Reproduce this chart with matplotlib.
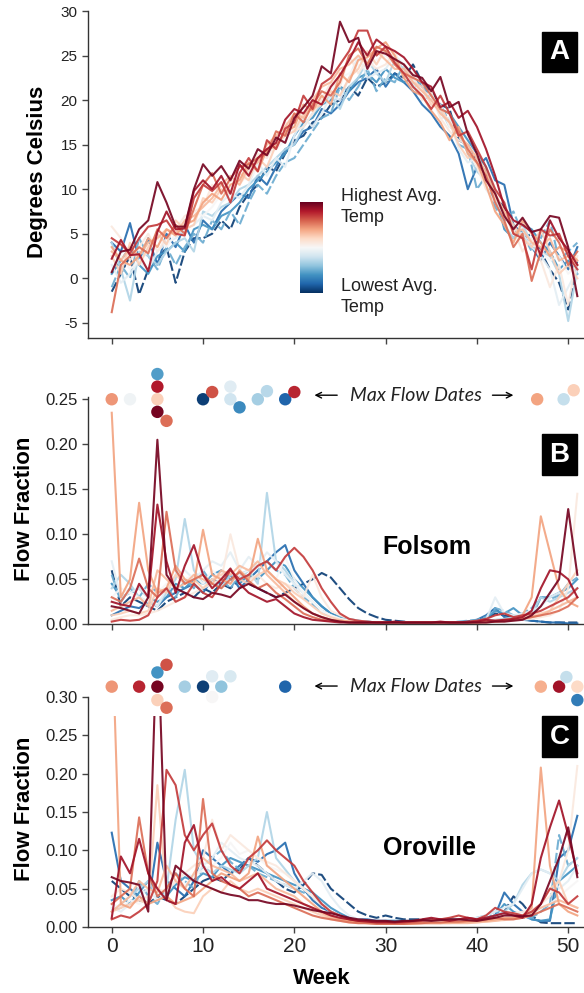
import numpy as np
import matplotlib.pyplot as plt
from matplotlib.patches import Rectangle

plt.rcParams['font.family'] = ['Liberation Sans', 'DejaVu Sans']

weeks = np.arange(52)

# colour rank of each year (0 = coolest year, 1 = warmest year), same years in all panels
year_rank = [0.98, 0.92, 0.85, 0.78, 0.70, 0.62, 0.55, 0.45, 0.35, 0.25, 0.12, 0.03, 0.66, 0.50, 0.20]

# weekly mean air temperature (deg C), one list per year
temp = [
    [0.7, 3.0, 3.2, 5.5, 6.5, 10.8, 8.5, 5.8, 5.8, 10.0, 12.8, 11.5, 12.6, 11.0, 13.2, 12.3, 14.5, 13.8, 15.8, 15.2, 18.0, 19.2, 20.5, 23.8, 23.0, 28.8, 26.5, 27.0, 23.5, 25.5, 25.2, 24.6, 24.0, 22.8, 22.5, 21.0, 22.6, 19.2, 19.8, 16.2, 14.0, 11.0, 9.5, 7.0, 5.5, 6.8, 5.2, 5.5, 7.0, 6.8, 3.5, -2.0],
    [2.2, 4.3, 2.6, 2.7, 0.8, 5.2, 7.5, 5.5, 5.6, 9.8, 11.0, 10.0, 11.5, 9.5, 12.8, 11.5, 13.5, 14.5, 15.2, 17.8, 19.0, 18.5, 20.0, 19.5, 21.5, 22.8, 24.5, 26.5, 25.0, 26.8, 26.0, 25.5, 24.8, 23.5, 22.0, 21.5, 19.2, 19.8, 18.0, 18.8, 17.0, 14.5, 11.5, 8.0, 6.5, 6.0, 5.2, 2.5, 6.5, 4.5, 3.2, 1.5],
    [4.5, 3.8, 2.8, 4.5, 5.8, 6.0, 6.5, 5.0, 4.8, 9.0, 10.5, 9.8, 10.8, 8.5, 11.8, 13.5, 12.0, 15.5, 14.5, 16.8, 17.5, 20.5, 19.0, 21.8, 22.5, 24.0, 25.5, 27.8, 27.8, 25.0, 26.0, 24.2, 23.0, 21.5, 20.5, 19.0, 20.5, 18.5, 16.0, 16.5, 14.5, 12.5, 10.0, 8.5, 5.0, 4.5, 1.0, 5.5, 4.8, 5.0, 2.5, 1.0],
    [-3.8, 1.5, 2.5, 3.5, 2.8, 5.5, 4.5, 6.0, 5.0, 7.8, 10.5, 11.8, 9.5, 11.2, 12.5, 12.8, 13.5, 14.0, 16.5, 16.0, 18.5, 17.5, 19.5, 21.0, 20.5, 22.0, 25.0, 25.8, 24.0, 26.0, 25.5, 24.0, 23.0, 22.5, 22.0, 20.5, 19.0, 18.5, 16.5, 14.5, 13.0, 11.5, 8.5, 6.5, 3.5, 5.0, -0.3, 3.0, 5.5, 4.0, 1.5, 3.0],
    [3.5, 2.0, 1.5, 2.5, 4.5, 3.5, 5.5, 4.8, 6.0, 6.5, 8.5, 9.5, 8.8, 10.5, 11.0, 13.0, 12.0, 14.5, 14.8, 16.5, 17.0, 19.5, 18.8, 20.5, 19.5, 23.0, 22.0, 24.5, 24.8, 25.8, 26.5, 25.0, 22.5, 21.0, 20.5, 18.8, 17.5, 15.5, 17.0, 14.0, 13.0, 10.5, 7.5, 6.0, 4.0, 6.5, 5.0, 4.0, 2.5, 3.5, 3.0, 2.0],
    [2.5, 0.5, 4.0, 1.5, 3.5, 5.0, 3.8, 6.5, 5.5, 6.0, 9.0, 8.5, 10.0, 9.5, 11.8, 11.0, 13.5, 12.5, 15.0, 16.0, 16.5, 18.5, 19.0, 19.5, 21.0, 20.5, 22.5, 23.5, 25.5, 24.0, 25.8, 24.5, 24.0, 22.0, 21.5, 19.5, 19.0, 17.5, 15.0, 13.5, 14.0, 11.5, 9.0, 7.5, 6.0, 4.5, 3.5, 5.5, 3.0, 0.5, 1.5, 0.0],
    [5.8, 4.5, 2.0, 3.5, 5.0, 3.0, 4.5, 5.5, 7.0, 7.5, 8.0, 10.5, 9.5, 11.0, 10.5, 12.0, 14.0, 13.5, 15.5, 17.5, 16.5, 17.0, 18.5, 20.0, 22.0, 21.5, 25.0, 23.0, 24.5, 23.5, 24.0, 25.5, 22.5, 23.0, 20.0, 21.0, 18.0, 16.5, 15.5, 15.0, 12.5, 10.0, 9.5, 7.0, 5.5, 3.0, 4.5, 2.0, -1.0, 1.5, -3.0, 2.5],
    [1.5, -0.5, 0.5, 2.0, 1.0, 3.0, 4.0, 4.5, 5.5, 6.0, 7.0, 6.5, 8.5, 9.5, 9.0, 10.5, 13.0, 11.5, 13.5, 12.5, 16.0, 18.0, 17.0, 18.5, 20.5, 20.0, 22.5, 25.0, 22.5, 23.0, 23.5, 25.0, 24.0, 22.5, 21.0, 20.5, 18.0, 18.0, 14.5, 13.0, 13.5, 10.0, 8.5, 7.0, 5.5, 5.0, 3.5, 2.5, 1.0, -3.0, -1.0, 1.0],
    [4.0, 1.0, -2.5, 3.0, 2.5, 1.5, 3.0, 4.0, 4.5, 3.0, 7.5, 7.0, 8.0, 8.5, 10.0, 10.5, 11.5, 12.5, 13.5, 14.5, 15.0, 17.0, 18.5, 19.5, 20.5, 19.0, 21.5, 22.5, 24.5, 23.0, 22.0, 24.5, 23.5, 21.5, 20.5, 20.0, 19.0, 17.0, 16.5, 14.0, 12.0, 11.0, 9.5, 6.0, 4.5, 6.0, 4.0, 3.0, 2.5, 0.5, -4.8, 1.0],
    [-1.0, 1.5, 0.0, 4.5, 2.5, 1.0, 3.5, 1.5, 3.5, 5.0, 4.0, 6.5, 5.5, 7.5, 6.0, 8.5, 10.5, 9.5, 11.5, 13.0, 13.5, 15.0, 16.5, 18.0, 18.5, 21.5, 20.0, 21.5, 23.5, 21.0, 22.5, 22.0, 24.0, 21.5, 22.0, 20.0, 19.5, 17.5, 15.0, 14.5, 10.0, 11.5, 8.0, 6.5, 7.5, 5.0, 3.0, 4.5, 6.5, 2.0, 3.0, 4.0],
    [4.0, 3.0, 6.2, 2.0, 4.5, 1.5, 5.0, 3.5, 6.0, 4.0, 6.5, 5.5, 7.5, 8.5, 9.5, 9.0, 11.5, 10.5, 12.5, 14.5, 15.0, 16.5, 17.0, 19.0, 18.5, 19.5, 21.0, 22.0, 22.5, 23.5, 21.5, 23.0, 22.0, 21.0, 19.5, 18.5, 17.0, 16.0, 14.0, 10.0, 12.5, 13.5, 11.0, 10.5, 6.0, 5.0, 3.5, 2.0, 4.0, 2.5, 1.0, 3.5],
    [-1.5, 0.5, 2.5, -1.8, 1.0, 2.0, 3.5, -0.5, 3.0, 4.5, 4.5, 5.0, 6.5, 5.5, 8.0, 9.5, 10.5, 12.5, 12.0, 14.0, 15.5, 16.0, 17.5, 18.0, 19.5, 20.0, 21.5, 20.5, 22.5, 21.5, 22.0, 23.0, 22.5, 24.0, 22.0, 21.0, 19.5, 19.0, 15.5, 15.0, 13.0, 12.0, 9.0, 8.0, 5.5, 4.5, 5.0, 3.0, 1.0, -0.5, -3.5, 2.0],
    [3.0, 2.0, 3.5, 2.5, 4.0, 4.5, 5.5, 5.0, 6.5, 7.0, 8.0, 9.0, 10.5, 11.5, 10.5, 12.5, 13.0, 15.0, 16.0, 17.0, 18.5, 18.0, 20.0, 21.5, 22.0, 23.5, 24.0, 25.0, 24.0, 25.5, 24.5, 23.5, 23.5, 22.0, 21.0, 20.0, 18.5, 17.5, 16.0, 15.0, 13.5, 12.0, 9.5, 7.5, 5.0, 5.5, 4.0, 3.5, 4.5, 2.0, 2.5, 1.5],
    [3.0, 2.5, 1.0, 2.0, 3.0, 4.5, 3.5, 5.0, 6.0, 7.5, 7.0, 8.0, 9.5, 10.0, 11.5, 11.0, 12.5, 14.0, 14.5, 15.5, 17.5, 18.5, 19.5, 20.5, 21.0, 22.5, 23.0, 24.0, 23.5, 24.5, 25.0, 24.0, 23.0, 22.0, 21.0, 20.0, 19.5, 17.0, 16.5, 14.5, 12.5, 11.0, 9.0, 7.5, 6.5, 5.5, 4.0, 3.0, 2.0, 2.5, 0.5, 1.5],
    [0.5, 2.0, 3.5, 1.5, 0.5, 2.5, 3.0, 4.0, 3.0, 5.5, 6.0, 5.5, 7.0, 7.5, 8.5, 10.0, 11.0, 12.0, 13.0, 14.0, 16.0, 17.5, 18.0, 19.5, 20.0, 21.5, 21.0, 22.5, 23.0, 22.0, 23.5, 22.5, 22.0, 22.5, 21.5, 20.5, 19.0, 18.5, 17.0, 15.5, 14.0, 12.5, 9.5, 5.5, 4.5, 6.0, 5.5, 4.0, 3.0, 1.0, 2.0, 0.5],
]

# weekly fraction of annual inflow, Folsom
folsom = [
    [0.020, 0.018, 0.015, 0.012, 0.030, 0.205, 0.055, 0.040, 0.035, 0.030, 0.028, 0.035, 0.033, 0.030, 0.040, 0.045, 0.040, 0.035, 0.030, 0.033, 0.025, 0.018, 0.012, 0.008, 0.005, 0.003, 0.002, 0.002, 0.002, 0.002, 0.002, 0.002, 0.002, 0.002, 0.002, 0.002, 0.002, 0.002, 0.002, 0.002, 0.002, 0.002, 0.003, 0.003, 0.004, 0.005, 0.010, 0.020, 0.035, 0.050, 0.128, 0.055],
    [0.025, 0.022, 0.020, 0.045, 0.030, 0.133, 0.070, 0.035, 0.065, 0.088, 0.055, 0.040, 0.050, 0.062, 0.045, 0.035, 0.030, 0.025, 0.028, 0.020, 0.012, 0.008, 0.005, 0.004, 0.003, 0.002, 0.002, 0.002, 0.002, 0.002, 0.002, 0.003, 0.002, 0.002, 0.002, 0.002, 0.003, 0.002, 0.002, 0.002, 0.003, 0.005, 0.004, 0.005, 0.006, 0.008, 0.015, 0.040, 0.060, 0.058, 0.050, 0.030],
    [0.003, 0.005, 0.004, 0.005, 0.010, 0.030, 0.040, 0.025, 0.030, 0.045, 0.035, 0.030, 0.045, 0.060, 0.050, 0.055, 0.065, 0.070, 0.060, 0.075, 0.085, 0.075, 0.060, 0.040, 0.025, 0.012, 0.006, 0.004, 0.003, 0.002, 0.002, 0.002, 0.002, 0.002, 0.002, 0.002, 0.002, 0.002, 0.002, 0.003, 0.004, 0.006, 0.010, 0.012, 0.008, 0.010, 0.012, 0.015, 0.020, 0.025, 0.030, 0.040],
    [0.030, 0.025, 0.040, 0.073, 0.040, 0.030, 0.125, 0.060, 0.045, 0.050, 0.055, 0.045, 0.040, 0.050, 0.058, 0.048, 0.040, 0.045, 0.035, 0.028, 0.020, 0.012, 0.008, 0.005, 0.004, 0.003, 0.002, 0.002, 0.002, 0.002, 0.002, 0.002, 0.002, 0.002, 0.002, 0.002, 0.002, 0.002, 0.002, 0.002, 0.002, 0.003, 0.003, 0.004, 0.005, 0.006, 0.008, 0.010, 0.012, 0.015, 0.020, 0.030],
    [0.235, 0.030, 0.050, 0.135, 0.060, 0.035, 0.040, 0.065, 0.050, 0.045, 0.105, 0.055, 0.050, 0.045, 0.060, 0.050, 0.095, 0.060, 0.050, 0.040, 0.030, 0.020, 0.012, 0.008, 0.005, 0.004, 0.003, 0.002, 0.002, 0.002, 0.002, 0.002, 0.002, 0.002, 0.002, 0.002, 0.002, 0.002, 0.002, 0.002, 0.002, 0.003, 0.004, 0.005, 0.006, 0.010, 0.030, 0.120, 0.080, 0.040, 0.025, 0.020],
    [0.010, 0.012, 0.015, 0.012, 0.015, 0.040, 0.035, 0.055, 0.045, 0.050, 0.040, 0.050, 0.055, 0.060, 0.050, 0.045, 0.055, 0.060, 0.050, 0.045, 0.035, 0.028, 0.020, 0.012, 0.008, 0.005, 0.003, 0.002, 0.002, 0.002, 0.002, 0.002, 0.002, 0.002, 0.002, 0.002, 0.002, 0.002, 0.002, 0.002, 0.002, 0.002, 0.003, 0.003, 0.005, 0.008, 0.010, 0.012, 0.015, 0.030, 0.045, 0.060],
    [0.005, 0.008, 0.010, 0.010, 0.012, 0.015, 0.020, 0.025, 0.030, 0.035, 0.040, 0.045, 0.050, 0.100, 0.060, 0.050, 0.055, 0.045, 0.040, 0.045, 0.040, 0.030, 0.055, 0.030, 0.015, 0.010, 0.006, 0.004, 0.003, 0.002, 0.002, 0.002, 0.002, 0.002, 0.002, 0.002, 0.002, 0.002, 0.002, 0.002, 0.002, 0.002, 0.003, 0.003, 0.004, 0.005, 0.006, 0.008, 0.010, 0.015, 0.040, 0.145],
    [0.070, 0.030, 0.035, 0.040, 0.030, 0.020, 0.040, 0.055, 0.060, 0.050, 0.060, 0.070, 0.065, 0.080, 0.060, 0.075, 0.065, 0.080, 0.070, 0.055, 0.045, 0.035, 0.025, 0.015, 0.010, 0.006, 0.004, 0.003, 0.002, 0.002, 0.002, 0.002, 0.002, 0.002, 0.002, 0.002, 0.002, 0.002, 0.002, 0.002, 0.003, 0.005, 0.030, 0.012, 0.010, 0.012, 0.015, 0.020, 0.030, 0.035, 0.030, 0.040],
    [0.040, 0.055, 0.045, 0.030, 0.025, 0.020, 0.035, 0.050, 0.117, 0.060, 0.045, 0.050, 0.040, 0.055, 0.050, 0.060, 0.045, 0.146, 0.070, 0.060, 0.045, 0.035, 0.025, 0.015, 0.010, 0.006, 0.004, 0.003, 0.002, 0.002, 0.002, 0.002, 0.002, 0.002, 0.002, 0.002, 0.002, 0.002, 0.002, 0.002, 0.003, 0.004, 0.005, 0.006, 0.008, 0.010, 0.012, 0.030, 0.025, 0.030, 0.035, 0.040],
    [0.055, 0.025, 0.040, 0.030, 0.045, 0.035, 0.040, 0.030, 0.050, 0.040, 0.060, 0.045, 0.050, 0.040, 0.055, 0.060, 0.065, 0.070, 0.060, 0.055, 0.040, 0.030, 0.022, 0.015, 0.010, 0.008, 0.006, 0.004, 0.003, 0.002, 0.002, 0.002, 0.002, 0.002, 0.002, 0.002, 0.002, 0.002, 0.003, 0.004, 0.005, 0.008, 0.018, 0.015, 0.010, 0.012, 0.018, 0.030, 0.028, 0.032, 0.045, 0.052],
    [0.010, 0.015, 0.020, 0.018, 0.025, 0.020, 0.030, 0.035, 0.040, 0.045, 0.035, 0.050, 0.045, 0.055, 0.040, 0.050, 0.060, 0.070, 0.080, 0.088, 0.060, 0.045, 0.030, 0.020, 0.012, 0.008, 0.005, 0.004, 0.003, 0.002, 0.002, 0.002, 0.002, 0.002, 0.002, 0.002, 0.002, 0.002, 0.002, 0.003, 0.005, 0.010, 0.018, 0.008, 0.006, 0.005, 0.004, 0.003, 0.002, 0.002, 0.001, 0.001],
    [0.060, 0.020, 0.030, 0.025, 0.020, 0.015, 0.025, 0.030, 0.035, 0.030, 0.040, 0.035, 0.045, 0.040, 0.050, 0.045, 0.040, 0.035, 0.030, 0.035, 0.040, 0.045, 0.050, 0.057, 0.052, 0.040, 0.028, 0.018, 0.012, 0.008, 0.005, 0.004, 0.003, 0.002, 0.002, 0.002, 0.002, 0.002, 0.002, 0.003, 0.004, 0.006, 0.012, 0.010, 0.008, 0.006, 0.004, 0.003, 0.002, 0.002, 0.002, 0.002],
    [0.015, 0.020, 0.025, 0.030, 0.020, 0.060, 0.050, 0.040, 0.045, 0.055, 0.050, 0.045, 0.060, 0.055, 0.065, 0.060, 0.070, 0.055, 0.045, 0.035, 0.025, 0.018, 0.012, 0.008, 0.005, 0.004, 0.003, 0.002, 0.002, 0.002, 0.002, 0.002, 0.002, 0.002, 0.002, 0.002, 0.002, 0.002, 0.002, 0.002, 0.002, 0.002, 0.003, 0.004, 0.005, 0.006, 0.008, 0.010, 0.015, 0.020, 0.025, 0.030],
    [0.030, 0.040, 0.035, 0.030, 0.025, 0.035, 0.045, 0.040, 0.050, 0.055, 0.045, 0.060, 0.050, 0.045, 0.055, 0.060, 0.065, 0.060, 0.050, 0.075, 0.050, 0.035, 0.025, 0.015, 0.010, 0.006, 0.004, 0.003, 0.002, 0.002, 0.002, 0.002, 0.002, 0.002, 0.002, 0.002, 0.002, 0.002, 0.002, 0.002, 0.002, 0.003, 0.004, 0.005, 0.006, 0.008, 0.010, 0.012, 0.015, 0.020, 0.025, 0.030],
    [0.045, 0.030, 0.035, 0.040, 0.030, 0.025, 0.030, 0.045, 0.040, 0.050, 0.045, 0.055, 0.060, 0.050, 0.045, 0.055, 0.050, 0.060, 0.070, 0.065, 0.050, 0.040, 0.030, 0.020, 0.012, 0.008, 0.005, 0.003, 0.002, 0.002, 0.002, 0.002, 0.002, 0.002, 0.002, 0.002, 0.002, 0.002, 0.002, 0.002, 0.003, 0.006, 0.015, 0.012, 0.018, 0.010, 0.008, 0.030, 0.030, 0.035, 0.040, 0.050],
]

# weekly fraction of annual inflow, Oroville
oroville = [
    [0.065, 0.060, 0.058, 0.055, 0.020, 0.400, 0.035, 0.080, 0.070, 0.060, 0.055, 0.050, 0.045, 0.042, 0.040, 0.035, 0.035, 0.032, 0.030, 0.030, 0.028, 0.025, 0.022, 0.020, 0.018, 0.015, 0.012, 0.010, 0.009, 0.008, 0.008, 0.007, 0.008, 0.008, 0.009, 0.008, 0.009, 0.010, 0.010, 0.009, 0.008, 0.010, 0.012, 0.015, 0.015, 0.014, 0.015, 0.030, 0.060, 0.090, 0.130, 0.065],
    [0.012, 0.092, 0.070, 0.115, 0.070, 0.050, 0.035, 0.030, 0.110, 0.133, 0.080, 0.060, 0.065, 0.055, 0.050, 0.060, 0.070, 0.050, 0.045, 0.040, 0.035, 0.030, 0.025, 0.020, 0.015, 0.012, 0.010, 0.008, 0.007, 0.006, 0.006, 0.006, 0.007, 0.008, 0.010, 0.012, 0.010, 0.008, 0.010, 0.012, 0.010, 0.012, 0.015, 0.018, 0.015, 0.012, 0.030, 0.090, 0.130, 0.165, 0.120, 0.070],
    [0.010, 0.015, 0.012, 0.020, 0.030, 0.060, 0.205, 0.185, 0.120, 0.100, 0.120, 0.135, 0.100, 0.080, 0.070, 0.090, 0.100, 0.113, 0.100, 0.090, 0.080, 0.060, 0.045, 0.030, 0.020, 0.015, 0.010, 0.008, 0.008, 0.007, 0.007, 0.006, 0.006, 0.007, 0.008, 0.009, 0.010, 0.012, 0.015, 0.012, 0.010, 0.015, 0.025, 0.020, 0.018, 0.015, 0.020, 0.030, 0.050, 0.045, 0.030, 0.040],
    [0.030, 0.040, 0.050, 0.143, 0.070, 0.040, 0.050, 0.070, 0.050, 0.040, 0.167, 0.070, 0.060, 0.055, 0.050, 0.040, 0.045, 0.040, 0.035, 0.030, 0.025, 0.020, 0.015, 0.012, 0.010, 0.008, 0.006, 0.005, 0.005, 0.004, 0.004, 0.004, 0.004, 0.005, 0.005, 0.006, 0.006, 0.007, 0.007, 0.008, 0.008, 0.010, 0.012, 0.010, 0.010, 0.012, 0.015, 0.020, 0.025, 0.030, 0.025, 0.020],
    [0.400, 0.030, 0.025, 0.040, 0.030, 0.035, 0.040, 0.030, 0.035, 0.040, 0.050, 0.060, 0.070, 0.065, 0.060, 0.070, 0.118, 0.080, 0.070, 0.060, 0.050, 0.040, 0.030, 0.020, 0.015, 0.010, 0.008, 0.006, 0.005, 0.005, 0.004, 0.004, 0.004, 0.004, 0.005, 0.005, 0.005, 0.006, 0.006, 0.007, 0.008, 0.008, 0.010, 0.012, 0.012, 0.015, 0.025, 0.208, 0.080, 0.030, 0.020, 0.015],
    [0.020, 0.025, 0.030, 0.035, 0.030, 0.185, 0.040, 0.025, 0.020, 0.018, 0.040, 0.050, 0.045, 0.060, 0.050, 0.045, 0.050, 0.045, 0.040, 0.035, 0.030, 0.025, 0.020, 0.015, 0.010, 0.008, 0.006, 0.005, 0.005, 0.004, 0.004, 0.004, 0.004, 0.004, 0.005, 0.005, 0.005, 0.005, 0.006, 0.006, 0.006, 0.007, 0.008, 0.009, 0.010, 0.012, 0.015, 0.030, 0.050, 0.060, 0.030, 0.025],
    [0.040, 0.050, 0.045, 0.035, 0.040, 0.050, 0.045, 0.060, 0.070, 0.080, 0.090, 0.140, 0.100, 0.120, 0.110, 0.100, 0.090, 0.085, 0.080, 0.070, 0.060, 0.050, 0.040, 0.030, 0.020, 0.015, 0.010, 0.008, 0.006, 0.005, 0.005, 0.005, 0.005, 0.005, 0.006, 0.006, 0.006, 0.007, 0.008, 0.008, 0.009, 0.010, 0.012, 0.015, 0.018, 0.020, 0.022, 0.030, 0.040, 0.060, 0.100, 0.210],
    [0.025, 0.020, 0.030, 0.040, 0.050, 0.035, 0.045, 0.060, 0.070, 0.065, 0.080, 0.090, 0.110, 0.100, 0.090, 0.085, 0.080, 0.070, 0.060, 0.055, 0.050, 0.060, 0.070, 0.060, 0.040, 0.025, 0.015, 0.010, 0.008, 0.007, 0.006, 0.006, 0.006, 0.006, 0.007, 0.008, 0.008, 0.009, 0.010, 0.010, 0.012, 0.015, 0.020, 0.025, 0.030, 0.050, 0.070, 0.075, 0.070, 0.050, 0.060, 0.080],
    [0.020, 0.030, 0.040, 0.050, 0.060, 0.040, 0.050, 0.140, 0.205, 0.100, 0.080, 0.070, 0.080, 0.075, 0.070, 0.080, 0.090, 0.150, 0.090, 0.075, 0.060, 0.050, 0.040, 0.030, 0.020, 0.015, 0.010, 0.008, 0.006, 0.005, 0.005, 0.005, 0.005, 0.006, 0.006, 0.006, 0.007, 0.007, 0.008, 0.008, 0.010, 0.012, 0.015, 0.020, 0.030, 0.055, 0.070, 0.075, 0.070, 0.060, 0.080, 0.090],
    [0.022, 0.025, 0.030, 0.060, 0.040, 0.030, 0.050, 0.070, 0.060, 0.050, 0.080, 0.090, 0.100, 0.085, 0.075, 0.080, 0.070, 0.065, 0.060, 0.055, 0.050, 0.045, 0.040, 0.030, 0.020, 0.015, 0.010, 0.008, 0.007, 0.006, 0.006, 0.006, 0.006, 0.007, 0.008, 0.008, 0.008, 0.009, 0.010, 0.010, 0.012, 0.015, 0.020, 0.018, 0.015, 0.012, 0.012, 0.020, 0.030, 0.120, 0.080, 0.090],
    [0.123, 0.060, 0.050, 0.040, 0.030, 0.110, 0.060, 0.050, 0.040, 0.060, 0.100, 0.090, 0.080, 0.070, 0.080, 0.090, 0.085, 0.095, 0.100, 0.110, 0.070, 0.050, 0.035, 0.025, 0.020, 0.015, 0.012, 0.010, 0.010, 0.008, 0.008, 0.008, 0.007, 0.007, 0.008, 0.008, 0.008, 0.009, 0.010, 0.010, 0.010, 0.012, 0.015, 0.045, 0.030, 0.020, 0.010, 0.008, 0.008, 0.090, 0.100, 0.145],
    [0.060, 0.050, 0.040, 0.035, 0.030, 0.040, 0.035, 0.030, 0.040, 0.050, 0.060, 0.065, 0.060, 0.070, 0.075, 0.090, 0.080, 0.070, 0.060, 0.050, 0.045, 0.055, 0.070, 0.068, 0.050, 0.040, 0.030, 0.020, 0.015, 0.012, 0.015, 0.012, 0.010, 0.010, 0.010, 0.010, 0.010, 0.010, 0.010, 0.010, 0.010, 0.012, 0.015, 0.020, 0.040, 0.030, 0.015, 0.006, 0.005, 0.005, 0.005, 0.005],
    [0.020, 0.030, 0.040, 0.060, 0.050, 0.045, 0.080, 0.060, 0.050, 0.070, 0.090, 0.080, 0.075, 0.070, 0.060, 0.065, 0.070, 0.060, 0.050, 0.045, 0.040, 0.030, 0.025, 0.018, 0.012, 0.010, 0.008, 0.006, 0.005, 0.005, 0.005, 0.005, 0.005, 0.005, 0.005, 0.005, 0.005, 0.005, 0.005, 0.005, 0.006, 0.007, 0.008, 0.010, 0.012, 0.015, 0.018, 0.025, 0.030, 0.035, 0.030, 0.025],
    [0.030, 0.025, 0.035, 0.030, 0.040, 0.045, 0.050, 0.060, 0.055, 0.065, 0.075, 0.080, 0.090, 0.110, 0.095, 0.100, 0.090, 0.080, 0.075, 0.070, 0.060, 0.050, 0.040, 0.030, 0.020, 0.015, 0.010, 0.008, 0.006, 0.006, 0.006, 0.006, 0.006, 0.006, 0.006, 0.006, 0.006, 0.006, 0.006, 0.006, 0.007, 0.008, 0.010, 0.012, 0.015, 0.018, 0.020, 0.025, 0.030, 0.040, 0.050, 0.060],
    [0.035, 0.040, 0.030, 0.045, 0.060, 0.050, 0.040, 0.055, 0.065, 0.060, 0.070, 0.065, 0.080, 0.090, 0.085, 0.080, 0.075, 0.070, 0.065, 0.060, 0.055, 0.050, 0.045, 0.035, 0.025, 0.018, 0.012, 0.010, 0.008, 0.008, 0.008, 0.008, 0.008, 0.008, 0.008, 0.008, 0.008, 0.008, 0.008, 0.008, 0.010, 0.012, 0.015, 0.030, 0.020, 0.015, 0.010, 0.008, 0.010, 0.060, 0.070, 0.080],
]

# max-flow date markers (week, stacked height, colour rank of that year)
folsom_max_week = [0, 2, 5, 5, 5, 5, 6, 10, 11, 13, 13, 14, 16, 17, 19, 20, 46.6, 49.5, 50.6]
folsom_max_y = [0.25, 0.25, 0.278, 0.264, 0.25, 0.236, 0.226, 0.25, 0.258, 0.264, 0.25, 0.241, 0.25, 0.259, 0.25, 0.258, 0.25, 0.25, 0.26]
folsom_max_rank = [0.72, 0.48, 0.22, 0.9, 0.62, 0.98, 0.78, 0.03, 0.82, 0.44, 0.4, 0.18, 0.33, 0.36, 0.1, 0.88, 0.7, 0.38, 0.62]

oroville_max_week = [0, 3, 5, 5, 6, 5, 6, 8, 10, 11, 11, 12, 13, 19, 47, 49, 49.8, 51, 51]
oroville_max_y = [0.3135, 0.3135, 0.3135, 0.332, 0.342, 0.296, 0.286, 0.3135, 0.3135, 0.327, 0.30, 0.3135, 0.327, 0.3135, 0.3135, 0.3135, 0.326, 0.3135, 0.296]
oroville_max_rank = [0.72, 0.88, 0.98, 0.2, 0.82, 0.62, 0.78, 0.33, 0.03, 0.44, 0.5, 0.3, 0.42, 0.1, 0.68, 0.92, 0.38, 0.6, 0.15]

# which years are drawn dashed (by index into year_rank)
DASHED = (9, 11)

cmap = plt.get_cmap('RdBu_r')
W, H = 584, 993
fig = plt.figure(figsize=(W / 100, H / 100), dpi=100)


def px_axes(x0, y0, x1, y1):
    return fig.add_axes([x0 / W, 1 - y1 / H, (x1 - x0) / W, (y1 - y0) / H])


def style_axes(ax, ylim, yticks, fmt, show_x):
    ax.set_xlim(-2.6, 51.73)
    ax.set_ylim(*ylim)
    ax.set_yticks(yticks)
    ax.set_yticklabels([fmt.format(t) for t in yticks])
    ax.set_xticks([0, 10, 20, 30, 40, 50])
    for s in ['top', 'right']:
        ax.spines[s].set_visible(False)
    for s in ['left', 'bottom']:
        ax.spines[s].set_color('#333333')
        ax.spines[s].set_linewidth(1.0)
    ax.tick_params(direction='out', length=4, width=1, color='#444444', labelcolor='#222222')
    ax.tick_params(axis='y', labelsize=12)
    ax.tick_params(axis='x', labelsize=15, labelbottom=show_x)


def draw_years(ax, series, clip_top=None):
    order = np.argsort(year_rank)
    for i in order:
        ls = (0, (5, 1.5)) if i in DASHED else '-'
        line, = ax.plot(weeks, series[i], color=cmap(year_rank[i]), lw=1.5,
                        ls=ls, alpha=0.92)
        if clip_top is not None:
            rect = Rectangle((-5, -1), 70, clip_top + 1, transform=ax.transData)
            line.set_clip_path(rect)


def panel_box(letter, x0, y0, x1, y1):
    fig.patches.append(Rectangle((x0 / W, 1 - y1 / H), (x1 - x0) / W, (y1 - y0) / H,
                                 transform=fig.transFigure, color='black'))
    fig.text((x0 + x1) / 2 / W, 1 - (y0 + y1) / 2 / H, letter, color='white',
             fontsize=20, fontweight='bold', ha='center', va='center')


def max_flow_row(ax, wk, yy, rk, y_arrow):
    ax.scatter(wk, yy, c=[cmap(r) for r in rk], s=80, edgecolors='none',
               clip_on=False, zorder=6)
    ax.annotate('', xy=(21.9, y_arrow), xytext=(25.0, y_arrow), annotation_clip=False,
                arrowprops=dict(arrowstyle='->', color='black', lw=1))
    ax.annotate('', xy=(44.3, y_arrow), xytext=(41.4, y_arrow), annotation_clip=False,
                arrowprops=dict(arrowstyle='->', color='black', lw=1))
    ax.text(33.3, y_arrow, 'Max Flow Dates', style='italic', fontsize=14,
            family=['Lato', 'DejaVu Sans'], ha='center', va='center', color='#222222')


# Panel A: temperature
axA = px_axes(88, 11, 584, 338)
draw_years(axA, temp)
style_axes(axA, (-6.7, 30), [-5, 0, 5, 10, 15, 20, 25, 30], '{:g}', False)
axA.tick_params(axis='y', labelsize=11)
fig.text(38 / W, 1 - 172 / H, 'Degrees Celsius', rotation=90, fontsize=16,
         fontweight='bold', ha='center', va='center')

cax = px_axes(300, 202, 323, 293)
cax.imshow(np.linspace(1, 0, 256)[:, None], aspect='auto', cmap=cmap)
cax.axis('off')
fig.text(341 / W, 1 - 207 / H, 'Highest Avg.\nTemp', fontsize=13, ha='left',
         va='center', linespacing=1.3, color='#222222')
fig.text(341 / W, 1 - 297 / H, 'Lowest Avg.\nTemp', fontsize=13, ha='left',
         va='center', linespacing=1.3, color='#222222')
panel_box('A', 542, 32, 577, 72)

# Panel B: Folsom
axB = px_axes(88, 397, 584, 624.3)
draw_years(axB, folsom)
style_axes(axB, (0, 0.2525), [0, 0.05, 0.10, 0.15, 0.20, 0.25], '{:.2f}', False)
max_flow_row(axB, folsom_max_week, folsom_max_y, folsom_max_rank, 0.2545)
fig.text(25 / W, 1 - 509 / H, 'Flow Fraction', rotation=90, fontsize=16,
         fontweight='bold', ha='center', va='center')
fig.text(427 / W, 1 - 547 / H, 'Folsom', fontsize=18, fontweight='bold',
         ha='center', va='center')
panel_box('B', 542, 434, 577, 475)

# Panel C: Oroville
axC = px_axes(88, 697, 584, 927)
draw_years(axC, oroville, clip_top=0.275)
style_axes(axC, (0, 0.30), [0, 0.05, 0.10, 0.15, 0.20, 0.25, 0.30], '{:.2f}', True)
max_flow_row(axC, oroville_max_week, oroville_max_y, oroville_max_rank, 0.3143)
fig.text(25 / W, 1 - 809 / H, 'Flow Fraction', rotation=90, fontsize=16,
         fontweight='bold', ha='center', va='center')
fig.text(430 / W, 1 - 848 / H, 'Oroville', fontsize=18, fontweight='bold',
         ha='center', va='center')
panel_box('C', 542, 716, 577, 757)
fig.text(322 / W, 1 - 978 / H, 'Week', fontsize=16, fontweight='bold',
         ha='center', va='center')

fig.savefig('out.png', dpi=100)
